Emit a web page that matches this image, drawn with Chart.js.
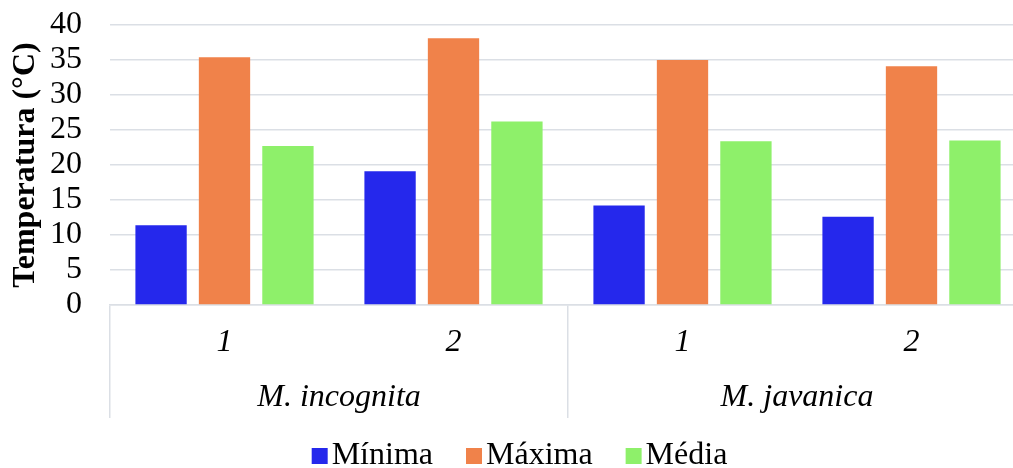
<!DOCTYPE html>
<html><head><meta charset="utf-8">
<script src="https://cdn.jsdelivr.net/npm/chart.js@4.4.1/dist/chart.umd.min.js"></script>
<style>
html,body{margin:0;padding:0;overflow:hidden;background:#fff;width:1013px;height:468px}
#wrap{position:absolute;left:0;top:0;width:1028px;height:482px}
</style></head><body><div id="wrap"><canvas id="c"></canvas></div>
<script>
const categories = ['1', '2', '1', '2'];
const groups = ['M. incognita', 'M. javanica'];
const seriesNames = ['Mínima', 'Máxima', 'Média'];
const minima = [11.4, 19.1, 14.2, 12.6];
const maxima = [35.4, 38.1, 35.0, 34.1];
const media = [22.7, 26.2, 23.4, 23.5];
const yMin = 0, yMax = 40, yStep = 5;
const yTitle = 'Temperatura (°C)';

const COLORS = ['#2528EC', '#F0824A', '#8EF06A'];
const GRID = '#dbdfe5';
Chart.defaults.font.family = "'Liberation Serif', 'Times New Roman', serif";
Chart.defaults.color = '#000';

// legend markers: small square drawn near the right of a wider transparent canvas
function makeMarker(color) {
  const cv = document.createElement('canvas');
  cv.width = 45; cv.height = 16;
  const g = cv.getContext('2d');
  g.fillStyle = color;
  g.fillRect(27, 0, 16, 16);
  return cv;
}
const markers = COLORS.map(makeMarker);

const seriesData = [minima, maxima, media];
new Chart(document.getElementById('c'), {
  type: 'bar',
  data: {
    labels: categories,
    datasets: seriesNames.map((n, i) => ({
      label: n, data: seriesData[i], backgroundColor: COLORS[i],
      borderWidth: 0, xAxisID: 'x', yAxisID: 'y',
      barPercentage: 0.809, categoryPercentage: 0.831
    }))
  },
  options: {
    responsive: true, maintainAspectRatio: false, animation: false,
    layout: {padding: {left: 0, right: 2, top: 25, bottom: 0}},
    plugins: {
      tooltip: {enabled: false},
      legend: {
        position: 'bottom',
        labels: {
          font: {size: 32}, color: '#000', boxWidth: 17, boxHeight: 17, padding: 20,
          usePointStyle: true,
          generateLabels(chart) {
            const items = Chart.defaults.plugins.legend.labels.generateLabels(chart);
            items.forEach((it, i) => { it.pointStyle = markers[i]; });
            return items;
          }
        }
      }
    },
    scales: {
      y: {
        min: yMin, max: yMax,
        ticks: {stepSize: yStep, font: {size: 32}, color: '#000', padding: 0, autoSkip: false},
        grid: {color: GRID, lineWidth: 1.5, drawTicks: true, tickLength: 28, tickColor: 'rgba(0,0,0,0)'},
        border: {display: false},
        title: {display: true, text: yTitle, font: {size: 32, weight: 'bold'}, color: '#000', padding: {top: 7, bottom: 0}},
        afterFit(s) { s.width = 110; }
      },
      x: {
        type: 'category', offset: true, weight: 0,
        grid: {
          offset: true, drawOnChartArea: false, drawTicks: true, tickLength: 57, lineWidth: 1.5,
          color: (c) => (c.index === undefined || c.index % 2 === 0) ? GRID : 'rgba(0,0,0,0)',
          tickColor: (c) => (c.index === undefined || c.index % 2 === 0) ? GRID : 'rgba(0,0,0,0)'
        },
        border: {display: true, color: GRID, width: 1.5},
        ticks: {font: {size: 32, style: 'italic'}, color: '#000', padding: -38.7, maxRotation: 0, autoSkip: false},
        afterFit(s) { s.height = 57; }
      },
      x2: {
        type: 'category', labels: groups, offset: true, position: 'bottom', weight: 1,
        grid: {offset: true, drawOnChartArea: false, drawTicks: true, tickLength: 56, lineWidth: 1.5, color: GRID, tickColor: GRID},
        border: {display: false},
        ticks: {font: {size: 32, style: 'italic'}, color: '#000', padding: -39.2, maxRotation: 0, autoSkip: false},
        afterFit(s) { s.height = 58; }
      }
    }
  }
});
</script></body></html>
